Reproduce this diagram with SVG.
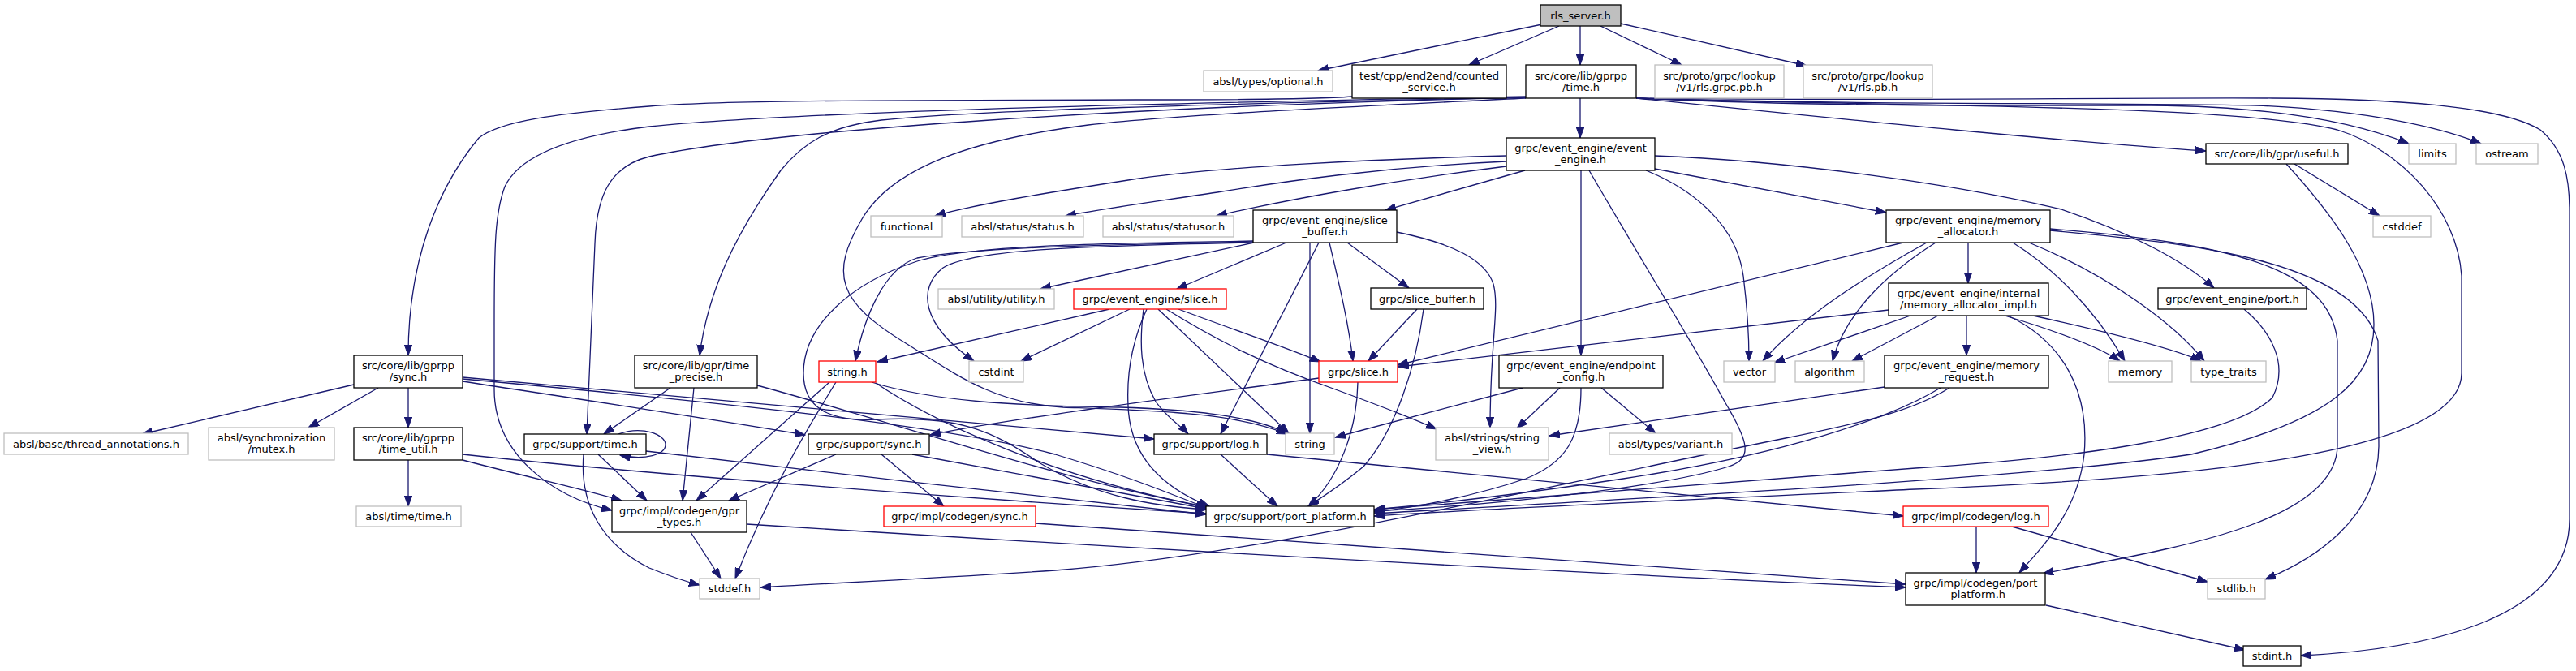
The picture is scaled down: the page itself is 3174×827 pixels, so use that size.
<svg xmlns="http://www.w3.org/2000/svg" width="3174" height="827" viewBox="0 0 3174 827">
<style>
.n rect{fill:#fff;stroke:#000;stroke-width:1.3}
.n.g rect{stroke:#bfbfbf}
.n.r rect{stroke:#ff0000}
.n.root rect{fill:#bfbfbf}
text{font-family:"DejaVu Sans",sans-serif;font-size:13px;text-anchor:middle;fill:#000}
#edges path{fill:none;stroke:#191970;stroke-width:1.3;marker-end:url(#a)}
</style>
<defs>
<marker id="a" markerUnits="userSpaceOnUse" markerWidth="14" markerHeight="10" refX="13" refY="4.7" orient="auto">
<path d="M0,0 L13,4.7 L0,9.4 z" fill="#191970" stroke="#191970" stroke-width="1"/>
</marker>
</defs>
<rect width="3174" height="827" fill="#fff"/>
<g id="edges">
<path d="M1900,30 L1624,87"/>
<path d="M1921,32 L1810,80"/>
<path d="M1947,32 L1947,80"/>
<path d="M1972,32 L2072,80"/>
<path d="M1997,29 L2226,81"/>
<path d="M1666,119 C1610,123 1500,123 1400,123 C1100,124 900,123 800,131 C680,140 615,150 590,170 C540,230 503,320 503,438"/>
<path d="M1947,121 L1947,170"/>
<path d="M1880,119 C1500,126 1000,136 800,156 C700,168 640,192 622,230 C610,262 609,300 609,400 L609,480 C609,560 680,612 754,629"/>
<path d="M1880,120 C1400,131 950,160 800,193 C752,205 735,240 733,300 L723,535"/>
<path d="M1880,120 C1500,128 1200,136 1086,148 C1020,156 990,176 962,210 C905,290 872,360 862,438"/>
<path d="M1880,121 C1700,130 1450,141 1341,154 C1200,172 1100,205 1062,270 C1022,338 1032,372 1116,423 C1180,463 1225,497 1310,502 C1420,506 1520,508 1586,535"/>
<path d="M2016,121 C2300,150 2550,175 2718,186"/>
<path d="M2016,121 C2250,132 2500,130 2650,130 C2800,131 2900,150 2968,177"/>
<path d="M2016,121 C2300,130 2600,126 2780,130 C2920,136 3010,158 3057,177"/>
<path d="M2016,121 C2300,125 2600,120 2800,121 C2950,122 3080,130 3130,160 C3160,185 3166,220 3166,260 L3166,640 C3166,760 3000,800 2835,808"/>
<path d="M2016,121 C2350,132 2750,128 2880,160 C2960,185 3028,260 3033,340 L3033,460 C3033,560 2700,590 2360,603 C2100,615 1850,626 1693,636"/>
<path d="M1856,192 C1700,196 1500,205 1390,222 C1300,236 1200,252 1152,266"/>
<path d="M1856,199 C1700,206 1580,224 1500,237 C1420,249 1360,257 1313,266"/>
<path d="M1856,205 C1720,222 1590,245 1499,266"/>
<path d="M1879,210 L1707,259"/>
<path d="M1948,210 L1948,438"/>
<path d="M1958,210 C2010,300 2090,430 2125,495 C2155,545 2160,565 2130,575 C2050,600 1850,622 1693,630"/>
<path d="M2028,210 C2090,235 2140,280 2148,340 C2153,380 2155,420 2155,445"/>
<path d="M2039,208 L2324,262"/>
<path d="M2039,192 C2200,198 2400,225 2540,258 C2620,285 2690,320 2728,355"/>
<path d="M1545,298 C1350,302 1200,305 1130,318 C1090,330 1065,390 1054,445"/>
<path d="M1545,299 C1350,303 1200,306 1162,330 C1130,355 1135,400 1200,445"/>
<path d="M1545,299 L1282,356"/>
<path d="M1585,299 L1450,356"/>
<path d="M1544,297 C1400,300 1200,300 1130,322 C1050,348 990,400 990,460 C990,502 1020,520 1080,517 C1180,512 1222,530 1280,570 C1350,612 1420,624 1487,628"/>
<path d="M1614,299 C1614,380 1614,450 1614,534"/>
<path d="M1638,299 C1650,350 1662,400 1667,445"/>
<path d="M1660,299 L1736,355"/>
<path d="M1721,286 C1790,300 1830,320 1840,350 C1848,380 1836,420 1836,527"/>
<path d="M1625,299 L1504,535"/>
<path d="M1746,381 L1686,445"/>
<path d="M1754,381 C1745,450 1720,530 1680,575 C1650,600 1630,612 1612,624"/>
<path d="M1367,381 L1081,446"/>
<path d="M1392,381 L1258,445"/>
<path d="M1413,381 C1395,420 1388,460 1390,500 C1392,560 1430,600 1490,624"/>
<path d="M1409,381 C1404,420 1404,460 1424,495 C1438,515 1455,525 1464,535"/>
<path d="M1427,381 L1588,534"/>
<path d="M1437,381 C1500,420 1560,450 1640,478 C1700,500 1740,515 1770,529"/>
<path d="M1452,381 C1530,410 1590,430 1627,446"/>
<path d="M2345,299 L1722,450"/>
<path d="M2425,299 L2425,349"/>
<path d="M2374,299 C2300,340 2220,390 2172,445"/>
<path d="M2385,299 C2320,340 2272,390 2258,445"/>
<path d="M2480,299 C2530,330 2580,380 2618,445"/>
<path d="M2500,299 C2600,340 2680,400 2716,445"/>
<path d="M2526,284 C2700,300 2900,320 2930,420 L2931,550 C2930,640 2850,690 2791,714"/>
<path d="M2526,282 C2750,300 2870,330 2880,420 L2880,550 C2878,650 2650,680 2517,707"/>
<path d="M2327,382 L1723,452"/>
<path d="M2354,389 L2186,447"/>
<path d="M2388,389 L2282,445"/>
<path d="M2423,389 L2423,438"/>
<path d="M2470,389 C2540,410 2590,430 2612,445"/>
<path d="M2505,389 C2600,410 2680,430 2712,445"/>
<path d="M2474,389 C2540,420 2575,480 2568,560 C2560,630 2520,670 2488,706"/>
<path d="M2322,477 L1909,537"/>
<path d="M2402,478 C2360,505 2300,520 2200,540 C1900,600 1560,683 1300,703 C1150,713 1000,720 937,724"/>
<path d="M2391,478 C2330,515 2200,560 2000,590 C1880,608 1780,620 1693,628"/>
<path d="M1876,478 L1645,539"/>
<path d="M1922,478 L1869,528"/>
<path d="M1973,478 L2040,534"/>
<path d="M1948,478 C1948,540 1930,570 1880,590 C1820,610 1750,625 1693,631"/>
<path d="M436,474 L175,535"/>
<path d="M466,478 L380,527"/>
<path d="M503,478 L503,527"/>
<path d="M570,470 C700,490 850,512 992,536"/>
<path d="M570,465 C800,485 1100,510 1422,541"/>
<path d="M570,467 C800,488 1150,520 1300,560 C1400,590 1450,612 1487,626"/>
<path d="M503,567 L503,624"/>
<path d="M570,567 C650,588 720,603 766,617"/>
<path d="M570,560 C800,585 1200,615 1486,633"/>
<path d="M762,535 C792,524 820,536 820,548 C820,560 795,568 764,561"/>
<path d="M737,560 L797,617"/>
<path d="M719,560 C714,620 740,670 800,700 C830,712 850,718 862,721"/>
<path d="M796,556 C1000,580 1300,615 1486,634"/>
<path d="M826,478 L744,535"/>
<path d="M855,478 L841,617"/>
<path d="M933,475 C1100,520 1300,590 1487,625"/>
<path d="M1022,471 L858,617"/>
<path d="M1030,471 C1000,520 950,600 906,713"/>
<path d="M1074,471 C1150,495 1250,500 1380,502 C1480,505 1550,515 1585,534"/>
<path d="M1079,472 C1150,520 1300,590 1488,625"/>
<path d="M1030,560 L898,617"/>
<path d="M1086,560 L1163,624"/>
<path d="M1124,560 L1486,627"/>
<path d="M1276,645 L2348,720"/>
<path d="M920,646 C1300,670 1900,705 2348,724"/>
<path d="M851,656 L888,713"/>
<path d="M1504,560 L1574,624"/>
<path d="M1561,560 L2345,636"/>
<path d="M1625,466 C1450,490 1250,515 1146,536"/>
<path d="M1673,471 C1672,530 1650,590 1612,624"/>
<path d="M2435,649 L2435,706"/>
<path d="M2479,649 L2720,717"/>
<path d="M2521,746 L2766,801"/>
<path d="M2765,381 C2800,410 2820,450 2800,490 C2750,540 2550,565 2360,577 C2100,595 1850,615 1693,628"/>
<path d="M2817,202 C2870,260 2925,330 2925,400 C2925,470 2870,520 2700,560 C2500,590 2000,615 1693,633"/>
<path d="M2827,202 L2932,266"/>
</g>
<g id="n_rls" class="n root"><rect x="1898" y="6" width="99" height="26"/><text x="1947.5" y="23.5">rls_server.h</text></g>
<g id="n_opt" class="n g"><rect x="1483" y="87" width="159" height="26"/><text x="1562.5" y="104.5">absl/types/optional.h</text></g>
<g id="n_cnt" class="n"><rect x="1666" y="80" width="190" height="41"/><text x="1761"><tspan x="1761" y="97.5">test/cpp/end2end/counted</tspan><tspan x="1761" y="111.5">_service.h</tspan></text></g>
<g id="n_time" class="n"><rect x="1880" y="80" width="136" height="41"/><text x="1948"><tspan x="1948" y="97.5">src/core/lib/gprpp</tspan><tspan x="1948" y="111.5">/time.h</tspan></text></g>
<g id="n_rlsgrpc" class="n g"><rect x="2039" y="80" width="159" height="41"/><text x="2118.5"><tspan x="2118.5" y="97.5">src/proto/grpc/lookup</tspan><tspan x="2118.5" y="111.5">/v1/rls.grpc.pb.h</tspan></text></g>
<g id="n_rlspb" class="n g"><rect x="2222" y="80" width="159" height="41"/><text x="2301.5"><tspan x="2301.5" y="97.5">src/proto/grpc/lookup</tspan><tspan x="2301.5" y="111.5">/v1/rls.pb.h</tspan></text></g>
<g id="n_ee" class="n"><rect x="1856" y="170" width="183" height="40"/><text x="1947.5"><tspan x="1947.5" y="187">grpc/event_engine/event</tspan><tspan x="1947.5" y="201">_engine.h</tspan></text></g>
<g id="n_useful" class="n"><rect x="2718" y="177" width="175" height="25"/><text x="2805.5" y="194">src/core/lib/gpr/useful.h</text></g>
<g id="n_limits" class="n g"><rect x="2968" y="177" width="58" height="25"/><text x="2997" y="194">limits</text></g>
<g id="n_ostream" class="n g"><rect x="3051" y="177" width="76" height="25"/><text x="3089" y="194">ostream</text></g>
<g id="n_func" class="n g"><rect x="1073" y="266" width="88" height="26"/><text x="1117" y="283.5">functional</text></g>
<g id="n_status" class="n g"><rect x="1185" y="266" width="150" height="26"/><text x="1260" y="283.5">absl/status/status.h</text></g>
<g id="n_statusor" class="n g"><rect x="1359" y="266" width="161" height="26"/><text x="1439.5" y="283.5">absl/status/statusor.h</text></g>
<g id="n_sb" class="n"><rect x="1544" y="259" width="177" height="40"/><text x="1632.5"><tspan x="1632.5" y="276">grpc/event_engine/slice</tspan><tspan x="1632.5" y="290">_buffer.h</tspan></text></g>
<g id="n_ma" class="n"><rect x="2324" y="259" width="202" height="40"/><text x="2425"><tspan x="2425" y="276">grpc/event_engine/memory</tspan><tspan x="2425" y="290">_allocator.h</tspan></text></g>
<g id="n_cstddef" class="n g"><rect x="2924" y="266" width="71" height="26"/><text x="2959.5" y="283.5">cstddef</text></g>
<g id="n_util" class="n g"><rect x="1156" y="356" width="143" height="25"/><text x="1227.5" y="373">absl/utility/utility.h</text></g>
<g id="n_ees" class="n r"><rect x="1323" y="356" width="188" height="25"/><text x="1417" y="373">grpc/event_engine/slice.h</text></g>
<g id="n_gsb" class="n"><rect x="1689" y="355" width="139" height="26"/><text x="1758.5" y="372.5">grpc/slice_buffer.h</text></g>
<g id="n_mai" class="n"><rect x="2327" y="349" width="197" height="40"/><text x="2425.5"><tspan x="2425.5" y="366">grpc/event_engine/internal</tspan><tspan x="2425.5" y="380">/memory_allocator_impl.h</tspan></text></g>
<g id="n_port" class="n"><rect x="2659" y="355" width="183" height="26"/><text x="2750.5" y="372.5">grpc/event_engine/port.h</text></g>
<g id="n_gsync" class="n"><rect x="436" y="438" width="134" height="40"/><text x="503"><tspan x="503" y="455">src/core/lib/gprpp</tspan><tspan x="503" y="469">/sync.h</tspan></text></g>
<g id="n_tp" class="n"><rect x="782" y="438" width="151" height="40"/><text x="857.5"><tspan x="857.5" y="455">src/core/lib/gpr/time</tspan><tspan x="857.5" y="469">_precise.h</tspan></text></g>
<g id="n_strh" class="n r"><rect x="1009" y="445" width="70" height="26"/><text x="1044" y="462.5">string.h</text></g>
<g id="n_cstdint" class="n g"><rect x="1194" y="445" width="67" height="26"/><text x="1227.5" y="462.5">cstdint</text></g>
<g id="n_slice" class="n r"><rect x="1625" y="445" width="97" height="26"/><text x="1673.5" y="462.5">grpc/slice.h</text></g>
<g id="n_epc" class="n"><rect x="1847" y="438" width="202" height="40"/><text x="1948"><tspan x="1948" y="455">grpc/event_engine/endpoint</tspan><tspan x="1948" y="469">_config.h</tspan></text></g>
<g id="n_vector" class="n g"><rect x="2124" y="445" width="63" height="26"/><text x="2155.5" y="462.5">vector</text></g>
<g id="n_algo" class="n g"><rect x="2212" y="445" width="85" height="26"/><text x="2254.5" y="462.5">algorithm</text></g>
<g id="n_mr" class="n"><rect x="2322" y="438" width="202" height="40"/><text x="2423"><tspan x="2423" y="455">grpc/event_engine/memory</tspan><tspan x="2423" y="469">_request.h</tspan></text></g>
<g id="n_memory" class="n g"><rect x="2598" y="445" width="78" height="26"/><text x="2637" y="462.5">memory</text></g>
<g id="n_tt" class="n g"><rect x="2700" y="445" width="92" height="26"/><text x="2746" y="462.5">type_traits</text></g>
<g id="n_thr" class="n g"><rect x="5" y="534" width="227" height="26"/><text x="118.5" y="551.5">absl/base/thread_annotations.h</text></g>
<g id="n_mutex" class="n g"><rect x="257" y="527" width="155" height="40"/><text x="334.5"><tspan x="334.5" y="544">absl/synchronization</tspan><tspan x="334.5" y="558">/mutex.h</tspan></text></g>
<g id="n_tu" class="n"><rect x="436" y="527" width="134" height="40"/><text x="503"><tspan x="503" y="544">src/core/lib/gprpp</tspan><tspan x="503" y="558">/time_util.h</tspan></text></g>
<g id="n_stime" class="n"><rect x="646" y="535" width="150" height="25"/><text x="721" y="552">grpc/support/time.h</text></g>
<g id="n_ssync" class="n"><rect x="996" y="535" width="149" height="25"/><text x="1070.5" y="552">grpc/support/sync.h</text></g>
<g id="n_slog" class="n"><rect x="1422" y="535" width="139" height="25"/><text x="1491.5" y="552">grpc/support/log.h</text></g>
<g id="n_string" class="n g"><rect x="1584" y="534" width="60" height="26"/><text x="1614" y="551.5">string</text></g>
<g id="n_sv" class="n g"><rect x="1769" y="527" width="139" height="40"/><text x="1838.5"><tspan x="1838.5" y="544">absl/strings/string</tspan><tspan x="1838.5" y="558">_view.h</tspan></text></g>
<g id="n_variant" class="n g"><rect x="1983" y="534" width="151" height="26"/><text x="2058.5" y="551.5">absl/types/variant.h</text></g>
<g id="n_abtime" class="n g"><rect x="439" y="624" width="129" height="25"/><text x="503.5" y="641">absl/time/time.h</text></g>
<g id="n_gpr" class="n"><rect x="754" y="617" width="166" height="39"/><text x="837"><tspan x="837" y="633.5">grpc/impl/codegen/gpr</tspan><tspan x="837" y="647.5">_types.h</tspan></text></g>
<g id="n_csync" class="n r"><rect x="1089" y="624" width="187" height="25"/><text x="1182.5" y="641">grpc/impl/codegen/sync.h</text></g>
<g id="n_pp" class="n"><rect x="1486" y="624" width="207" height="25"/><text x="1589.5" y="641">grpc/support/port_platform.h</text></g>
<g id="n_clog" class="n r"><rect x="2345" y="624" width="179" height="25"/><text x="2434.5" y="641">grpc/impl/codegen/log.h</text></g>
<g id="n_stddef" class="n g"><rect x="862" y="713" width="74" height="25"/><text x="899" y="730">stddef.h</text></g>
<g id="n_stdlib" class="n g"><rect x="2720" y="713" width="71" height="25"/><text x="2755.5" y="730">stdlib.h</text></g>
<g id="n_cpp" class="n"><rect x="2348" y="706" width="172" height="40"/><text x="2434"><tspan x="2434" y="723">grpc/impl/codegen/port</tspan><tspan x="2434" y="737">_platform.h</tspan></text></g>
<g id="n_stdint" class="n"><rect x="2764" y="796" width="71" height="25"/><text x="2799.5" y="813">stdint.h</text></g>
</svg>
